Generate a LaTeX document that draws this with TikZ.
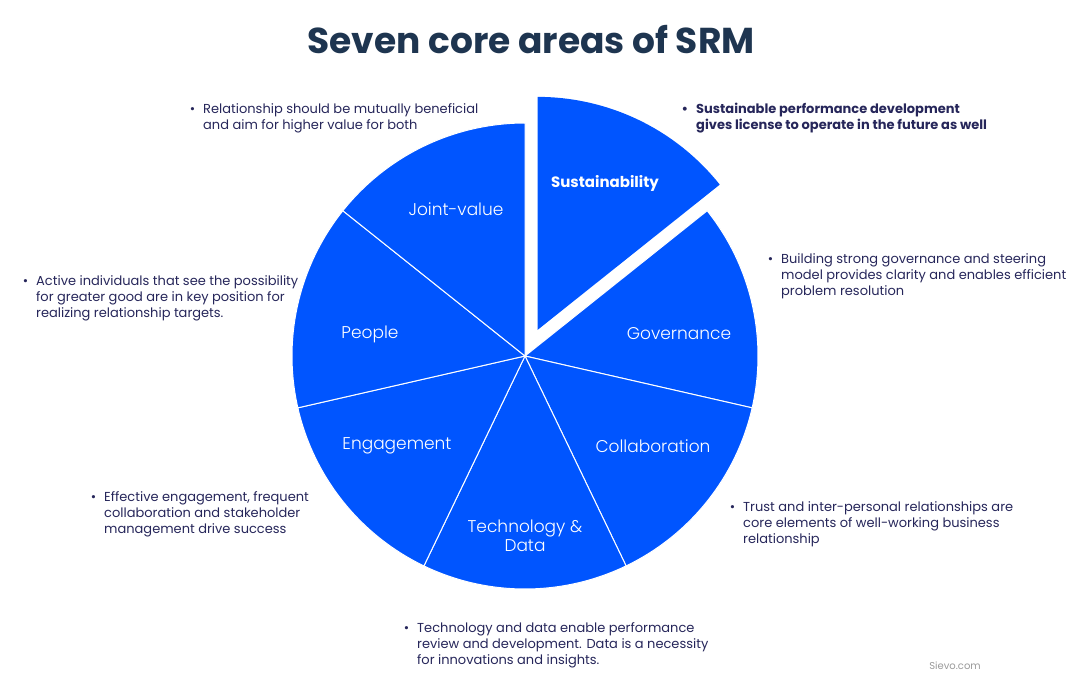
\documentclass[tikz,border=0pt]{standalone}
\usepackage{fontspec}
\setmainfont{Poppins}
\newfontfamily\lightfont{Poppins Light}
\usetikzlibrary{positioning}
\definecolor{srmblue}{HTML}{0055FF}
\definecolor{titlenavy}{HTML}{1E3550}
\definecolor{notenavy}{HTML}{26265A}

\begin{document}
\begin{tikzpicture}[
    x=1pt, y=-1pt,
    slice/.style={fill=srmblue, draw=white, line width=1pt, line join=round},
    area/.style={text=white, font=\lightfont\fontsize{17}{19}\selectfont, align=center},
    note/.style={anchor=north west, inner sep=0pt, align=left, text=notenavy, font=\fontsize{13}{16.3}\selectfont}
]
    \useasboundingbox (0,0) rectangle (1084,689);

    % Title
    \node[font=\bfseries\fontsize{36}{40}\selectfont, text=titlenavy] (title) at (531,40) {Seven core areas of SRM};

    % Pie
    \coordinate (c) at (525,356);
    \foreach \i in {1,...,6}
        \draw[slice] (c) -- ++(-90+\i*51.4286:233) arc[start angle=-90+\i*51.4286, delta angle=51.4286, radius=233] -- cycle;
    \coordinate (cs) at ([shift={(-64.2857:29)}]c);
    \draw[slice, draw=none] (cs) -- ++(-90:233) arc[start angle=-90, delta angle=51.4286, radius=233] -- cycle;

    % Slice labels
    \node[area, font=\bfseries\fontsize{15}{17}\selectfont] (sust) at (605,183) {Sustainability};
    \node[area] (gov) at (679,334) {Governance};
    \node[area] (collab) at (653,446) {Collaboration};
    \node[area, font=\lightfont\fontsize{17}{19.5}\selectfont] (tech) at (525,536) {Technology \&\\Data};
    \node[area] (engage) at (397,446) {Engagement};
    \node[area] (people) at (370,334) {People};
    \node[area] (joint) at (456,209) {Joint-value};

    % Notes
    \node[note] (jointnote) at (203,103) {\llap{•\hspace{8pt}}Relationship should be mutually beneficial\\and aim for higher value for both};
    \node[note, font=\bfseries\fontsize{13}{16.3}\selectfont] (sustnote) at (696,103) {\llap{•\hspace{8pt}}Sustainable performance development\\gives license to operate in the future as well};
    \node[note] (govnote) at (781,253) {\llap{•\hspace{8pt}}Building strong governance and steering\\model provides clarity and enables efficient\\problem resolution};
    \node[note] (peoplenote) at (36,275) {\llap{•\hspace{8pt}}Active individuals that see the possibility\\for greater good are in key position for\\realizing relationship targets.};
    \node[note] (engagenote) at (104,491) {\llap{•\hspace{8pt}}Effective engagement, frequent\\collaboration and stakeholder\\management drive success};
    \node[note] (collabnote) at (743,501) {\llap{•\hspace{8pt}}Trust and inter-personal relationships are\\core elements of well-working business\\relationship};
    \node[note] (technote) at (417,622) {\llap{•\hspace{8pt}}Technology and data enable performance\\review and development. Data is a necessity\\for innovations and insights.};

    % Source
    \node[text=gray!80, font=\fontsize{10}{12}\selectfont] (source) at (955,666) {Sievo.com};
\end{tikzpicture}
\end{document}
